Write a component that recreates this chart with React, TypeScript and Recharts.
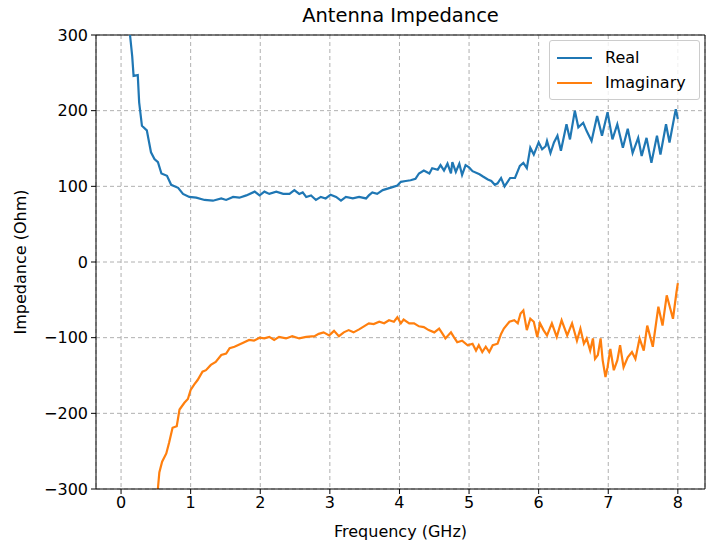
import {
  LineChart,
  Line,
  XAxis,
  YAxis,
  CartesianGrid,
  ReferenceLine
} from "recharts";

// Antenna impedance
const realFreq = [
  0.1, 0.13, 0.16, 0.18, 0.24, 0.26, 0.3, 0.37, 0.43, 0.48, 0.53, 0.58, 0.66, 0.72, 0.82, 0.89, 0.98,
  1.08, 1.2, 1.32, 1.44, 1.51, 1.61, 1.7, 1.8, 1.92, 1.99, 2.06, 2.13, 2.23, 2.33, 2.42, 2.49, 2.56,
  2.61, 2.66, 2.73, 2.8, 2.87, 2.94, 3.01, 3.09, 3.16, 3.23, 3.33, 3.42, 3.52, 3.56, 3.61, 3.68, 3.76,
  3.83, 3.9, 3.97, 4.02, 4.09, 4.16, 4.23, 4.28, 4.35, 4.43, 4.47, 4.55, 4.59, 4.64, 4.69, 4.74, 4.76,
  4.81, 4.86, 4.9, 4.95, 5.0, 5.05, 5.15, 5.2, 5.27, 5.32, 5.37, 5.41, 5.46, 5.51, 5.59, 5.66, 5.73,
  5.78, 5.83, 5.88, 5.93, 6.0, 6.05, 6.1, 6.12, 6.17, 6.22, 6.27, 6.32, 6.4, 6.45, 6.52, 6.57, 6.64,
  6.69, 6.76, 6.84, 6.91, 6.99, 7.06, 7.13, 7.21, 7.28, 7.35, 7.43, 7.48, 7.55, 7.62, 7.7, 7.75, 7.83,
  7.88, 7.97, 8.0
];
const realOhm = [
  360, 299, 272, 246, 247, 211, 180, 174, 145, 136, 132, 117, 114, 102, 98, 90, 86,
  85, 82, 81, 84, 82, 86, 85, 88, 93, 88, 93, 90, 93, 90, 90, 95, 90,
  92, 86, 88, 82, 86, 84, 89, 86, 81, 86, 84, 86, 84, 88, 92, 90, 95,
  97, 99, 101, 106, 107, 108, 110, 117, 121, 117, 124, 122, 128, 121, 130, 117, 132,
  119, 130, 115, 128, 125, 120, 116, 113, 109, 107, 102, 104, 111, 100, 111, 111, 127,
  131, 124, 151, 142, 158, 149, 153, 160, 144, 158, 167, 147, 182, 162, 200, 178, 184,
  173, 160, 193, 167, 198, 162, 182, 151, 176, 144, 164, 140, 164, 131, 167, 142, 182,
  158, 202, 189
];

const imagFreq = [
  0.48, 0.53, 0.55, 0.59, 0.65, 0.69, 0.74, 0.8, 0.84, 0.91, 0.96, 1.0, 1.05, 1.1, 1.17, 1.22, 1.29,
  1.36, 1.44, 1.51, 1.56, 1.63, 1.7, 1.77, 1.84, 1.91, 1.99, 2.06, 2.13, 2.2, 2.27, 2.37, 2.46, 2.56,
  2.66, 2.78, 2.84, 2.91, 2.99, 3.06, 3.13, 3.2, 3.27, 3.34, 3.42, 3.49, 3.56, 3.63, 3.71, 3.78, 3.85,
  3.92, 3.97, 4.02, 4.06, 4.14, 4.21, 4.28, 4.35, 4.42, 4.5, 4.57, 4.62, 4.66, 4.74, 4.78, 4.83, 4.9,
  4.98, 5.05, 5.1, 5.14, 5.19, 5.24, 5.29, 5.34, 5.41, 5.46, 5.5, 5.58, 5.65, 5.7, 5.74, 5.78, 5.83,
  5.88, 5.93, 5.98, 6.02, 6.07, 6.12, 6.19, 6.26, 6.33, 6.41, 6.48, 6.55, 6.6, 6.65, 6.69, 6.74, 6.78,
  6.81, 6.85, 6.89, 6.92, 6.96, 6.99, 7.03, 7.08, 7.13, 7.17, 7.22, 7.28, 7.34, 7.39, 7.45, 7.51, 7.56,
  7.64, 7.72, 7.78, 7.84, 7.93, 7.98, 8.0
];
const imagOhm = [
  -335, -299, -278, -264, -253, -239, -219, -217, -195, -186, -181, -169, -162, -156, -145, -143, -136,
  -132, -123, -121, -114, -112, -109, -106, -103, -104, -100, -101, -99, -103, -99, -101, -98, -101,
  -99, -98, -95, -93, -97, -91, -98, -93, -90, -93, -89, -85, -81, -82, -79, -81, -77,
  -79, -73, -81, -76, -81, -81, -85, -86, -90, -93, -88, -95, -101, -93, -99, -106, -104,
  -110, -108, -117, -110, -119, -112, -119, -110, -108, -95, -88, -79, -77, -81, -68, -64, -90,
  -75, -79, -99, -81, -90, -97, -81, -99, -77, -97, -81, -104, -88, -108, -101, -117, -101,
  -128, -123, -101, -130, -152, -139, -115, -143, -130, -110, -139, -126, -119, -128, -101, -117, -84,
  -112, -59, -84, -44, -75, -40, -28
];

const xTicks = [0, 1, 2, 3, 4, 5, 6, 7, 8];
const yTicks = [-300, -200, -100, 0, 100, 200, 300];

const series = [
  { name: "Real", color: "#1f77b4" },
  { name: "Imaginary", color: "#ff7f0e" }
];

const realData = realFreq.map((f, i) => ({ f, v: realOhm[i] }));
const imagData = imagFreq.map((f, i) => ({ f, v: imagOhm[i] }));

const FONT = "'DejaVu Sans', sans-serif";
const FS = 16;
const XMIN = -0.36;
const XMAX = 8.39;

const fmt = (v: number) => (v < 0 ? "\u2212" + Math.abs(v) : String(v));

export default function App() {
  return (
    <div
      style={{
        position: "absolute",
        left: 0,
        top: 0,
        width: 717,
        height: 552,
        background: "#fff",
        fontFamily: FONT,
        color: "#000"
      }}
    >
      <div
        style={{
          position: "absolute",
          left: 96,
          top: 3,
          width: 609,
          textAlign: "center",
          fontSize: 19.5,
          lineHeight: "26px"
        }}
      >
        Antenna Impedance
      </div>
      <LineChart
        width={717}
        height={552}
        margin={{ top: 35, right: 12, bottom: 13, left: 16 }}
      >
        <CartesianGrid stroke="#b0b0b0" strokeDasharray="4 3" />
        <XAxis
          type="number"
          dataKey="f"
          domain={[XMIN, XMAX]}
          ticks={xTicks}
          allowDataOverflow
          height={50}
          tickSize={5}
          tickMargin={3}
          stroke="#000"
          tick={{ fill: "#000", fontFamily: FONT, fontSize: FS }}
          label={{
            value: "Frequency (GHz)",
            position: "insideBottom",
            offset: 2,
            fill: "#000",
            fontFamily: FONT,
            fontSize: FS
          }}
        />
        <YAxis
          type="number"
          domain={[-300, 300]}
          ticks={yTicks}
          tickFormatter={fmt}
          allowDataOverflow
          width={80}
          tickSize={5}
          tickMargin={3}
          stroke="#000"
          tick={{ fill: "#000", fontFamily: FONT, fontSize: FS }}
          label={{
            value: "Impedance (Ohm)",
            angle: -90,
            position: "insideLeft",
            offset: 4,
            fill: "#000",
            fontFamily: FONT,
            fontSize: FS,
            style: { textAnchor: "middle" }
          }}
        />
        <ReferenceLine y={300} stroke="#000" />
        <ReferenceLine x={XMAX} stroke="#000" />
        <Line
          data={realData}
          dataKey="v"
          name="Real"
          type="linear"
          stroke="#1f77b4"
          strokeWidth={2.2}
          dot={false}
          isAnimationActive={false}
        />
        <Line
          data={imagData}
          dataKey="v"
          name="Imaginary"
          type="linear"
          stroke="#ff7f0e"
          strokeWidth={2.2}
          dot={false}
          isAnimationActive={false}
        />
      </LineChart>
      <div
        style={{
          position: "absolute",
          left: 549,
          top: 40,
          width: 151,
          height: 60,
          boxSizing: "border-box",
          border: "1px solid #cccccc",
          borderRadius: 3,
          background: "rgba(255,255,255,0.8)",
          padding: "4px 0 0 7px",
          fontSize: FS
        }}
      >
        {series.map((s) => (
          <div
            key={s.name}
            style={{ display: "flex", alignItems: "center", height: 25 }}
          >
            <span
              style={{
                display: "inline-block",
                width: 35,
                height: 2,
                background: s.color,
                marginRight: 13
              }}
            />
            <span>{s.name}</span>
          </div>
        ))}
      </div>
    </div>
  );
}
